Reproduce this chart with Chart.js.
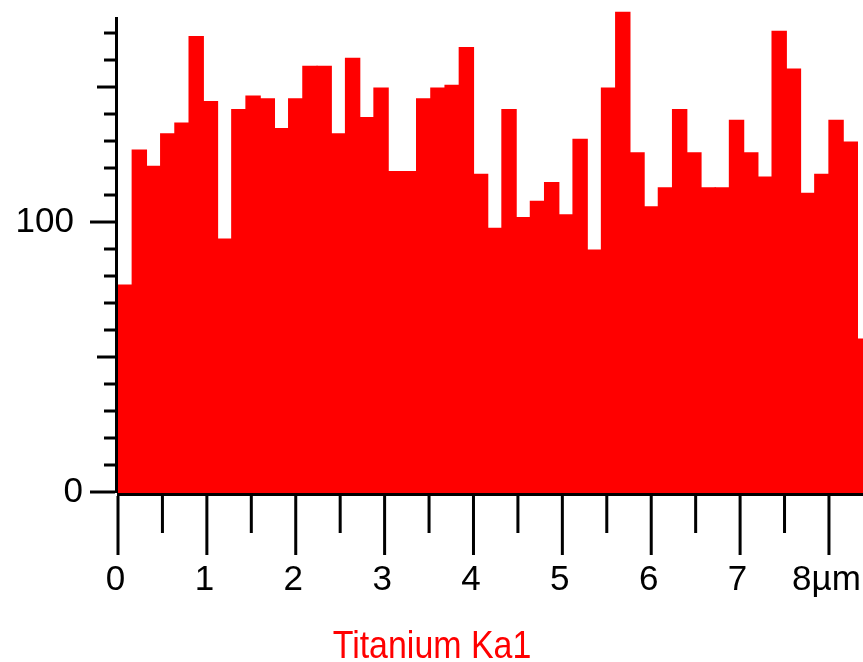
<!DOCTYPE html>
<html>
<head>
<meta charset="utf-8">
<script src="https://cdn.jsdelivr.net/npm/chart.js@4/dist/chart.umd.min.js"></script>
<style>
  html, body { margin: 0; padding: 0; background: #fff; }
  canvas { display: block; }
</style>
</head>
<body>
<canvas id="grafico" width="863" height="662"></canvas>
<script>
// largura de cada faixa do perfil (µm)
const binWidth = 0.16;
// contagens, uma por faixa
const counts = [77, 127, 121, 133, 137, 169, 145, 94, 142, 147, 146, 135, 146, 158, 158, 133, 161, 139, 150, 119,
                119, 146, 150, 151, 165, 118, 98, 142, 102, 108, 115, 103, 131, 90, 150, 178, 126, 106, 113, 142,
                126, 113, 113, 138, 126, 117, 171, 157, 111, 118, 138, 130, 57];
const xMajor = [0, 1, 2, 3, 4, 5, 6, 7, 8];
const xLabels = ['0', '1', '2', '3', '4', '5', '6', '7', '8µm'];
const xMinor = [0.5, 1.5, 2.5, 3.5, 4.5, 5.5, 6.5, 7.5];
const yTicks = [0, 10, 20, 30, 40, 50, 60, 70, 80, 90, 100, 110, 120, 130, 140, 150, 160, 170];
const yLabelTicks = [0, 100];
const titulo = 'Titanium Ka1';

const pontos = counts.map((c, i) => ({ x: (i + 0.5) * binWidth, y: c }));

const eixos = {
    id: 'eixos',
    afterDraw(chart) {
        const ctx = chart.ctx;
        const xs = chart.scales.x, ys = chart.scales.y;
        const y0 = ys.getPixelForValue(0);
        ctx.save();
        ctx.fillStyle = '#000';
        // eixo y
        ctx.fillRect(115, 17, 3, y0 - 17);
        yTicks.forEach(v => {
            const py = ys.getPixelForValue(v);
            let ini = 104;
            if (v % 100 === 0) ini = 90;
            else if (v % 50 === 0) ini = 97;
            ctx.fillRect(ini, py - 2.5, 115 - ini, 3);
        });
        // eixo x
        ctx.fillRect(117, y0, 746, 3);
        xMajor.forEach(v => {
            const px = xs.getPixelForValue(v);
            ctx.fillRect(px - 1.5, y0 + 3, 3, 59);
        });
        xMinor.forEach(v => {
            const px = xs.getPixelForValue(v);
            ctx.fillRect(px - 1.5, y0 + 3, 3, 37);
        });

        ctx.font = '35px "Liberation Sans", Arial, sans-serif';
        ctx.textBaseline = 'middle';
        ctx.textAlign = 'right';
        yLabelTicks.forEach(v => {
            const py = ys.getPixelForValue(v);
            const dir = v === 0 ? 83 : 74;
            ctx.fillText(String(v), dir, py - 1);
        });
        ctx.textAlign = 'center';
        xMajor.forEach((v, i) => {
            const px = xs.getPixelForValue(v);
            ctx.fillText(xLabels[i], px - 2.5, 580);
        });

        // titulo em baixo, um pouco mais estreito como no original
        ctx.fillStyle = '#ff0000';
        ctx.textBaseline = 'alphabetic';
        ctx.font = '39px "Liberation Sans", Arial, sans-serif';
        ctx.translate(432, 658);
        ctx.scale(0.87, 1);
        ctx.fillText(titulo, 0, 0);
        ctx.restore();
    }
};

new Chart(document.getElementById('grafico'), {
    type: 'bar',
    data: {
        datasets: [{
            data: pontos,
            backgroundColor: '#ff0000',
            borderWidth: 0,
            inflateAmount: 0.6,
            barPercentage: 1,
            categoryPercentage: 1
        }]
    },
    options: {
        responsive: false,
        animation: false,
        devicePixelRatio: 1,
        layout: { padding: { left: 118, right: 0, top: 0, bottom: 169 } },
        plugins: { legend: { display: false }, tooltip: { enabled: false } },
        scales: {
            x: { type: 'linear', min: 0, max: 8.383, offset: false, display: false },
            y: { min: 0, max: 182.6, display: false }
        }
    },
    plugins: [eixos]
});
</script>
</body>
</html>
